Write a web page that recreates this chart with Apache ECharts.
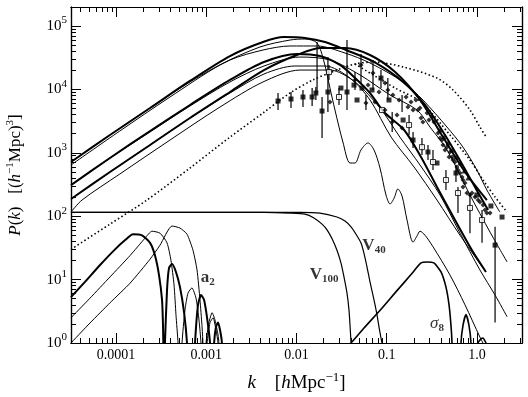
<!DOCTYPE html>
<html>
<head>
<meta charset="utf-8">
<script src="https://cdn.jsdelivr.net/npm/echarts@6.0.0/dist/echarts.min.js"></script>
<style>
html,body{margin:0;padding:0;background:#ffffff;}
#chart{width:528px;height:397px;}
</style>
</head>
<body>
<div id="chart"></div>
<script>
// ---------- tick labels ----------
const xTickValues = [0.0001, 0.001, 0.01, 0.1, 1];
const xTickLabels = ['0.0001', '0.001', '0.01', '0.1', '1.0'];
const yTickExponents = [0, 1, 2, 3, 4, 5];

// ---------- model power spectra  [k (h/Mpc), P(k)] ----------
const modelThickA = [[3.16e-5,716],[8.55e-5,1910],[2.38e-4,5090],[6.59e-4,13600],[1.83e-3,33600],[4.25e-3,56000],[7.26e-3,67000],[1.24e-2,64700],[2.07e-2,56000],[3.54e-2,41800],[7.23e-2,27100],[0.152,13100],[0.266,5680],[0.443,1910],[0.684,666],[0.977,269],[1.33,125]];
const modelThinA = [[3.16e-5,716],[8.55e-5,1910],[2.38e-4,5090],[6.59e-4,13100],[1.83e-3,29100],[4.25e-3,41800],[8.47e-3,48400],[1.69e-2,48400],[3.45e-2,37500],[6.53e-2,26100],[0.152,13100],[0.252,6810],[0.466,2550],[0.701,1230],[1.00,535],[1.29,259],[1.80,116]];
const modelThickB = [[3.16e-5,310],[8.55e-5,828],[2.38e-4,2210],[6.59e-4,5680],[1.83e-3,14100],[4.36e-3,27100],[1.01e-2,36200],[1.82e-2,33600],[3.03e-2,24300],[4.34e-2,15700],[6.53e-2,8770],[9.33e-2,4400],[0.156,2290],[0.240,859],[0.361,289],[0.572,87],[0.883,29],[1.26,13.2]];
const modelThinB = [[3.16e-5,187],[8.55e-5,498],[2.38e-4,1330],[6.59e-4,3540],[1.83e-3,8770],[4.36e-3,17500],[9.62e-3,23400],[2.07e-2,23400],[3.92e-2,15100],[6.53e-2,6810],[0.112,1770],[0.201,597],[0.361,180],[0.650,50],[1.17,15.2]];
const modelThickC = [[3.16e-5,187],[8.55e-5,498],[2.38e-4,1330],[6.59e-4,3540],[1.83e-3,9100],[4.36e-3,20200],[1.01e-2,34900],[1.87e-2,45000],[3.45e-2,45000],[6.53e-2,34900],[0.124,18800],[0.234,6810],[0.421,1770],[0.738,498],[1.29,180]];
const modelThinC = [[3.16e-5,310],[8.55e-5,828],[2.38e-4,2130],[6.59e-4,5470],[1.83e-3,13100],[4.36e-3,23400],[1.09e-2,32400],[2.35e-2,29100],[5.06e-2,16900],[0.109,8160],[0.217,4730],[0.302,2550],[0.466,1110],[0.838,216],[1.40,56],[2.16,19]];
const modelThinD = [[3.16e-5,116],[4.19e-5,180],[1.10e-4,463],[3.96e-4,1590],[1.42e-3,5280],[4.25e-3,13100],[1.09e-2,20200],[2.35e-2,20200],[4.45e-2,13100],[8.43e-2,5090],[0.140,1770],[0.234,642],[0.390,216],[0.650,54],[1.08,14.2],[1.59,5.7],[2.16,2.6]];
const modelWiggle = [[3.16e-5,642],[1.10e-4,2210],[3.96e-4,7590],[1.42e-3,24300],[3.94e-3,46700],[8.47e-3,60100],[1.24e-2,62400],[1.69e-2,54000],[2.02e-2,27100],[2.35e-2,10500],[2.67e-2,4730],[3.27e-2,1480],[3.92e-2,690],[4.45e-2,690],[5.19e-2,1110],[6.21e-2,1430],[7.23e-2,1110],[8.43e-2,576],[9.82e-2,216],[0.109,156],[0.121,194],[0.133,269],[0.148,208],[0.168,87],[0.196,39],[0.217,49],[0.234,58],[0.266,50],[0.326,33],[0.503,11.8],[0.738,4.0],[1.08,1.24],[1.20,0.93]];
const modelDottedA = [[3.16e-5,30],[8.55e-5,75],[2.20e-4,180],[6.59e-4,576],[1.83e-3,1770],[4.25e-3,4240],[8.47e-3,8770],[1.52e-2,14100],[2.81e-2,20200],[4.45e-2,25200],[7.23e-2,27100],[0.152,22600],[0.361,15100],[0.543,9790],[0.838,4730],[1.08,2550],[1.29,1710]];
const modelDottedB = [[4.45e-2,25200],[0.124,10500],[0.240,6330],[0.503,1910],[0.838,770],[1.17,372],[1.59,201],[2.16,116]];

// ---------- window functions ----------
const windowV100 = [[3.16e-5,115],[4.36e-3,115],[8.47e-3,112],[1.24e-2,108],[1.56e-2,94],[1.92e-2,75],[2.18e-2,61],[2.48e-2,44],[2.81e-2,29],[3.11e-2,18.3],[3.36e-2,11],[3.63e-2,6.1],[3.82e-2,3.3],[3.92e-2,1.9],[4.02e-2,1.0],[4.12e-2,0.3]];
const windowV40 = [[3.16e-5,115],[1.09e-2,115],[1.82e-2,112],[2.81e-2,97],[3.45e-2,84],[4.02e-2,68],[4.57e-2,52],[5.19e-2,37.8],[5.60e-2,26],[6.05e-2,15.8],[6.53e-2,9.2],[7.23e-2,4.8],[7.80e-2,2.8],[8.21e-2,1.8],[8.64e-2,1.2],[8.87e-2,1.0],[9.10e-2,0.3]];
const windowSigma8 = [[4.02e-2,1.0],[5.60e-2,1.72],[8.64e-2,3.4],[0.130,6.7],[0.186,12.0],[0.240,18.3],[0.280,19],[0.334,18.3],[0.400,13.2],[0.454,7.6],[0.491,4.0],[0.516,1.9],[0.530,1.0],[0.543,0.3],[0.650,0.3],[0.666,1.0],[0.701,1.9],[0.757,2.8],[0.817,1.9],[0.860,1.0],[0.883,0.3],[1.00,0.3],[1.03,1.0],[1.11,1.16],[1.17,1.2],[1.23,1.07],[1.26,1.0],[1.29,0.3]];
const windowA2Thick = [[3.16e-5,5.3],[4.52e-5,9.2],[6.64e-5,17],[9.73e-5,30],[1.26e-4,42],[1.54e-4,52],[1.94e-4,50],[2.38e-4,38],[2.70e-4,24],[2.99e-4,11.8],[3.23e-4,4.8],[3.31e-4,1.9],[3.40e-4,0.3],[3.48e-4,1.0],[3.67e-4,6.9],[3.86e-4,15.2],[4.17e-4,17.6],[4.61e-4,13.2],[5.11e-4,7.6],[5.66e-4,3.1],[6.11e-4,1.0],[6.26e-4,0.3],[7.31e-4,0.3],[7.50e-4,1.0],[8.09e-4,4.0],[8.73e-4,5.7],[9.43e-4,4.8],[1.02e-3,2.5],[1.10e-3,1.0],[1.13e-3,0.3],[1.19e-3,0.3],[1.22e-3,1.0],[1.28e-3,1.8],[1.35e-3,2.1],[1.42e-3,1.6],[1.49e-3,1.0],[1.53e-3,0.3]];
const windowA2ThinB = [[3.16e-5,2.5],[5.14e-5,5.1],[8.55e-5,11],[1.43e-4,24],[2.09e-4,45],[2.50e-4,58],[3.07e-4,54],[3.67e-4,38],[4.06e-4,20],[4.39e-4,8.2],[4.61e-4,2.8],[4.86e-4,1.0],[4.98e-4,0.3],[5.24e-4,0.3],[5.38e-4,1.0],[5.80e-4,3.3],[6.26e-4,6.1],[6.93e-4,7.4],[7.69e-4,5.1],[8.30e-4,2.3],[8.73e-4,1.0],[8.95e-4,0.3],[9.93e-4,0.3],[1.02e-3,1.0],[1.10e-3,2.1],[1.19e-3,2.5],[1.28e-3,1.6],[1.35e-3,1.0],[1.38e-3,0.3]];
const windowA2ThinC = [[3.16e-5,1.0],[5.14e-5,2.07],[8.55e-5,4.3],[1.43e-4,8.8],[2.38e-4,21],[3.07e-4,35],[4.17e-4,70],[5.11e-4,65],[6.11e-4,52],[7.12e-4,29],[7.89e-4,14.2],[8.51e-4,4.8],[8.95e-4,1.9],[9.18e-4,1.0],[9.43e-4,0.3],[9.68e-4,0.3],[9.93e-4,1.0],[1.07e-3,2.1],[1.16e-3,3.0],[1.25e-3,2.3],[1.35e-3,1.34],[1.38e-3,1.0],[1.42e-3,0.3]];

// ---------- measured P(k) ----------
const dataSquareFilled = [[6.24e-3,6560],[8.69e-3,7060],[1.18e-2,7590],[1.49e-2,7590],[1.64e-2,8770],[1.92e-2,4560],[2.23e-2,9100],[3.63e-2,9100],[3.11e-2,10500],[4.34e-2,11700],[4.69e-2,6810],[5.32e-2,10500],[6.87e-2,9790],[8.64e-2,15100],[0.106,6810],[0.152,3290],[0.196,1590],[0.287,1030],[0.361,690],[0.586,480],[1.00,216],[1.43,145],[1.90,97],[1.59,35]];
const dataSquareOpen = [[2.29e-2,18800],[2.96e-2,7590],[8.87e-2,4730],[0.177,2740],[0.246,1230],[0.326,716],[0.454,372],[0.617,232],[0.838,135],[1.14,87]];
const dataDot = [[2.35e-2,6330],[4.45e-2,14100],[5.19e-2,24300],[5.89e-2,6100],[6.21e-2,11700],[7.05e-2,18100],[7.41e-2,6330],[8.21e-2,9100],[9.57e-2,12600],[9.57e-2,4730],[0.103,9790],[0.115,3060],[0.117,8160],[0.130,3950],[0.137,6810],[0.148,2460],[0.164,7590],[0.172,5280],[0.186,6330],[0.196,4730],[0.211,6810],[0.222,4730],[0.234,5090],[0.240,3540],[0.252,3060],[0.280,4240],[0.294,3290],[0.318,3670],[0.334,3060],[0.371,2050],[0.390,1710],[0.410,1590],[0.421,1330],[0.443,1110],[0.466,1230],[0.491,859],[0.503,1030],[0.530,859],[0.543,770],[0.572,716],[0.601,597],[0.617,535],[0.650,480],[0.684,415],[0.701,372],[0.738,334],[0.701,289],[0.776,232],[0.838,216],[0.883,232],[0.953,201],[1.03,180],[1.08,167],[1.17,150],[1.23,125],[1.29,112],[1.40,112]];
const dataTriangle = [[0.390,2290],[0.432,1770],[0.478,1430],[0.530,1110],[0.586,859],[0.650,690],[0.720,516],[0.796,401]];
const errorBars = [[6.24e-3,4730,8770],[8.69e-3,5090,9100],[1.18e-2,5280,9790],[1.49e-2,5470,10500],[1.64e-2,6810,10900],[1.69e-2,8770,56000],[1.92e-2,1710,7590],[2.23e-2,4400,32400],[2.29e-2,14100,24300],[2.96e-2,5680,10500],[3.63e-2,4730,60100],[4.45e-2,9790,18800],[5.19e-2,12600,36200],[7.05e-2,9790,29100],[5.89e-2,4730,8160],[8.64e-2,10500,20200],[0.103,6810,15100],[0.115,2130,4400],[0.148,4400,8160],[0.177,1910,3950],[0.246,923,1710],[0.326,535,1110],[0.454,259,535],[0.617,112,289],[0.838,54,232],[1.14,38,125],[1.59,2.1,68],[0.196,1190,2130],[0.287,770,1330],[0.586,346,642]];

// ---------- annotations ----------
const annoText = ['{b|a}{s|2}', '{b|V}{s|40}', '{b|V}{s|100}', '{g|σ}{s|8}'];
const annoK = [1.04e-3, 0.0723, 0.0202, 0.361];
const annoP = [10.6, 34, 11.8, 2.0];

// ================= build =================
const FONT = '"Liberation Serif","DejaVu Serif",serif';
const lg = v => Math.log10(v);
const toLog = arr => arr.map(p => [lg(p[0]), lg(p[1])]);
const X_MIN = -4.5, X_MAX = 0.5, Y_MIN = 0, Y_MAX = 5.3;

const xMajor = xTickValues.map(lg);
const xMinor = [];
for (let d = -5; d <= 0; d++) for (let m = 2; m <= 9; m++) { const v = d + Math.log10(m); if (v > X_MIN && v < X_MAX) xMinor.push(v); }
const yMajor = yTickExponents.slice();
const yMinor = [];
for (let d = 0; d <= 5; d++) for (let m = 2; m <= 9; m++) { const v = d + Math.log10(m); if (v < Y_MAX) yMinor.push(v); }

const supRich = { fontFamily: FONT, fontSize: 11, lineHeight: 11, verticalAlign: 'top', color: '#000' };

function nameStyle(size) {
  return { color: '#000', fontFamily: FONT, fontSize: size, lineHeight: size + 5,
    rich: { i: { fontFamily: FONT, fontStyle: 'italic', fontSize: size, lineHeight: size + 5, color: '#000' },
            s: { fontFamily: FONT, fontSize: size - 6, lineHeight: size - 6, verticalAlign: 'top', color: '#000' } } };
}

function xAx(pos, vals, len, withLabels) {
  const a = {
    type: 'value', min: X_MIN, max: X_MAX, position: pos,
    axisLine: { show: true, onZero: false, lineStyle: { color: '#000', width: 1.2 } },
    axisTick: { show: true, inside: true, length: len, customValues: vals, lineStyle: { color: '#000', width: 1 } },
    axisLabel: { show: withLabels, customValues: vals, margin: 5, color: '#000', fontFamily: FONT, fontSize: 14,
      formatter: v => xTickLabels[Math.round(v) + 4] },
    splitLine: { show: false }
  };
  if (withLabels) {
    a.name = '{i|k}    [{i|h}Mpc{s|−1}]';
    a.nameLocation = 'middle';
    a.nameGap = 28;
    a.nameTextStyle = nameStyle(19);
  }
  return a;
}
function yAx(pos, vals, len, withLabels) {
  const a = {
    type: 'value', min: Y_MIN, max: Y_MAX, position: pos,
    axisLine: { show: true, onZero: false, lineStyle: { color: '#000', width: 1.2 } },
    axisTick: { show: true, inside: true, length: len, customValues: vals, lineStyle: { color: '#000', width: 1 } },
    axisLabel: { show: withLabels, customValues: vals, margin: 4, color: '#000', fontFamily: FONT, fontSize: 15,
      formatter: v => '{b|10}{s|' + Math.round(v) + '}',
      rich: { b: { fontFamily: FONT, fontSize: 15, lineHeight: 22, color: '#000' }, s: supRich } },
    splitLine: { show: false }
  };
  if (withLabels) {
    a.name = '{i|P}({i|k})   [({i|h}{s|−1}Mpc){s|3}]';
    a.nameLocation = 'middle';
    a.nameRotate = 90;
    a.nameGap = 44;
    a.nameTextStyle = nameStyle(17);
  }
  return a;
}

function curve(data, width, opts) {
  opts = opts || {};
  return {
    type: 'line', xAxisIndex: 0, yAxisIndex: 0, data: toLog(data),
    symbol: 'none', showSymbol: false, clip: true, silent: true,
    smooth: opts.smooth === undefined ? 0.3 : opts.smooth,
    lineStyle: { color: '#000', width: width, type: opts.dotted ? [1.5, 2.5] : 'solid' },
    z: 2, animation: false
  };
}
function marks(data, symbol, size, open) {
  return {
    type: 'scatter', xAxisIndex: 0, yAxisIndex: 0, data: toLog(data), symbol: symbol, symbolSize: size,
    itemStyle: open ? { color: '#fff', borderColor: '#000', borderWidth: 1 } : { color: '#000' },
    clip: true, silent: true, z: 5, animation: false
  };
}

const series = [
  curve(modelThickA, 2), curve(modelThinA, 1),
  curve(modelThickB, 2), curve(modelThinB, 1),
  curve(modelThickC, 2), curve(modelThinC, 1),
  curve(modelThinD, 1), curve(modelWiggle, 1),
  curve(modelDottedA, 1.6, { dotted: true }), curve(modelDottedB, 1.6, { dotted: true }),
  curve(windowV100, 1.2, { smooth: 0.2 }), curve(windowV40, 1.2, { smooth: 0.2 }),
  curve(windowSigma8, 1.6, { smooth: 0.2 }),
  curve(windowA2Thick, 2, { smooth: 0.2 }), curve(windowA2ThinB, 1, { smooth: 0.2 }), curve(windowA2ThinC, 1, { smooth: 0.2 }),
  {
    type: 'custom', xAxisIndex: 0, yAxisIndex: 0, silent: true, clip: true, z: 4, animation: false,
    data: errorBars.map(e => [lg(e[0]), lg(e[1]), lg(e[2])]),
    encode: { x: 0, y: [1, 2] },
    renderItem: (params, api) => {
      const a = api.coord([api.value(0), api.value(1)]);
      const b = api.coord([api.value(0), api.value(2)]);
      return { type: 'line', shape: { x1: a[0], y1: a[1], x2: b[0], y2: b[1] }, style: { stroke: '#000', lineWidth: 1.2 } };
    }
  },
  marks(dataSquareFilled, 'rect', 5, false),
  marks(dataSquareOpen, 'rect', 5, true),
  marks(dataDot, 'diamond', 5, false),
  marks(dataTriangle, 'triangle', 5, false),
  {
    type: 'scatter', xAxisIndex: 0, yAxisIndex: 0, symbolSize: 0, silent: true, z: 6, animation: false,
    data: annoText.map((t, i) => ({ value: [lg(annoK[i]), lg(annoP[i])], label: { formatter: t } })),
    label: { show: true, position: 'inside', color: '#000',
      rich: {
        b: { fontFamily: FONT, fontSize: 17, fontWeight: 'bold', lineHeight: 20, color: '#000' },
        g: { fontFamily: FONT, fontSize: 17, fontStyle: 'italic', lineHeight: 20, color: '#000' },
        s: { fontFamily: FONT, fontSize: 11, fontWeight: 'bold', lineHeight: 12, verticalAlign: 'bottom', color: '#000' }
      } }
  }
];

const chart = echarts.init(document.getElementById('chart'), null, { renderer: 'canvas' });
chart.setOption({
  animation: false,
  backgroundColor: '#ffffff',
  grid: { left: 71, right: 6, top: 7, bottom: 54, containLabel: false, outerBoundsMode: 'none' },
  xAxis: [xAx('bottom', xMajor, 10, true), xAx('bottom', xMinor, 5, false), xAx('top', xMajor, 10, false), xAx('top', xMinor, 5, false)],
  yAxis: [yAx('left', yMajor, 10, true), yAx('left', yMinor, 5, false), yAx('right', yMajor, 10, false), yAx('right', yMinor, 5, false)],
  series: series
});
</script>
</body>
</html>
